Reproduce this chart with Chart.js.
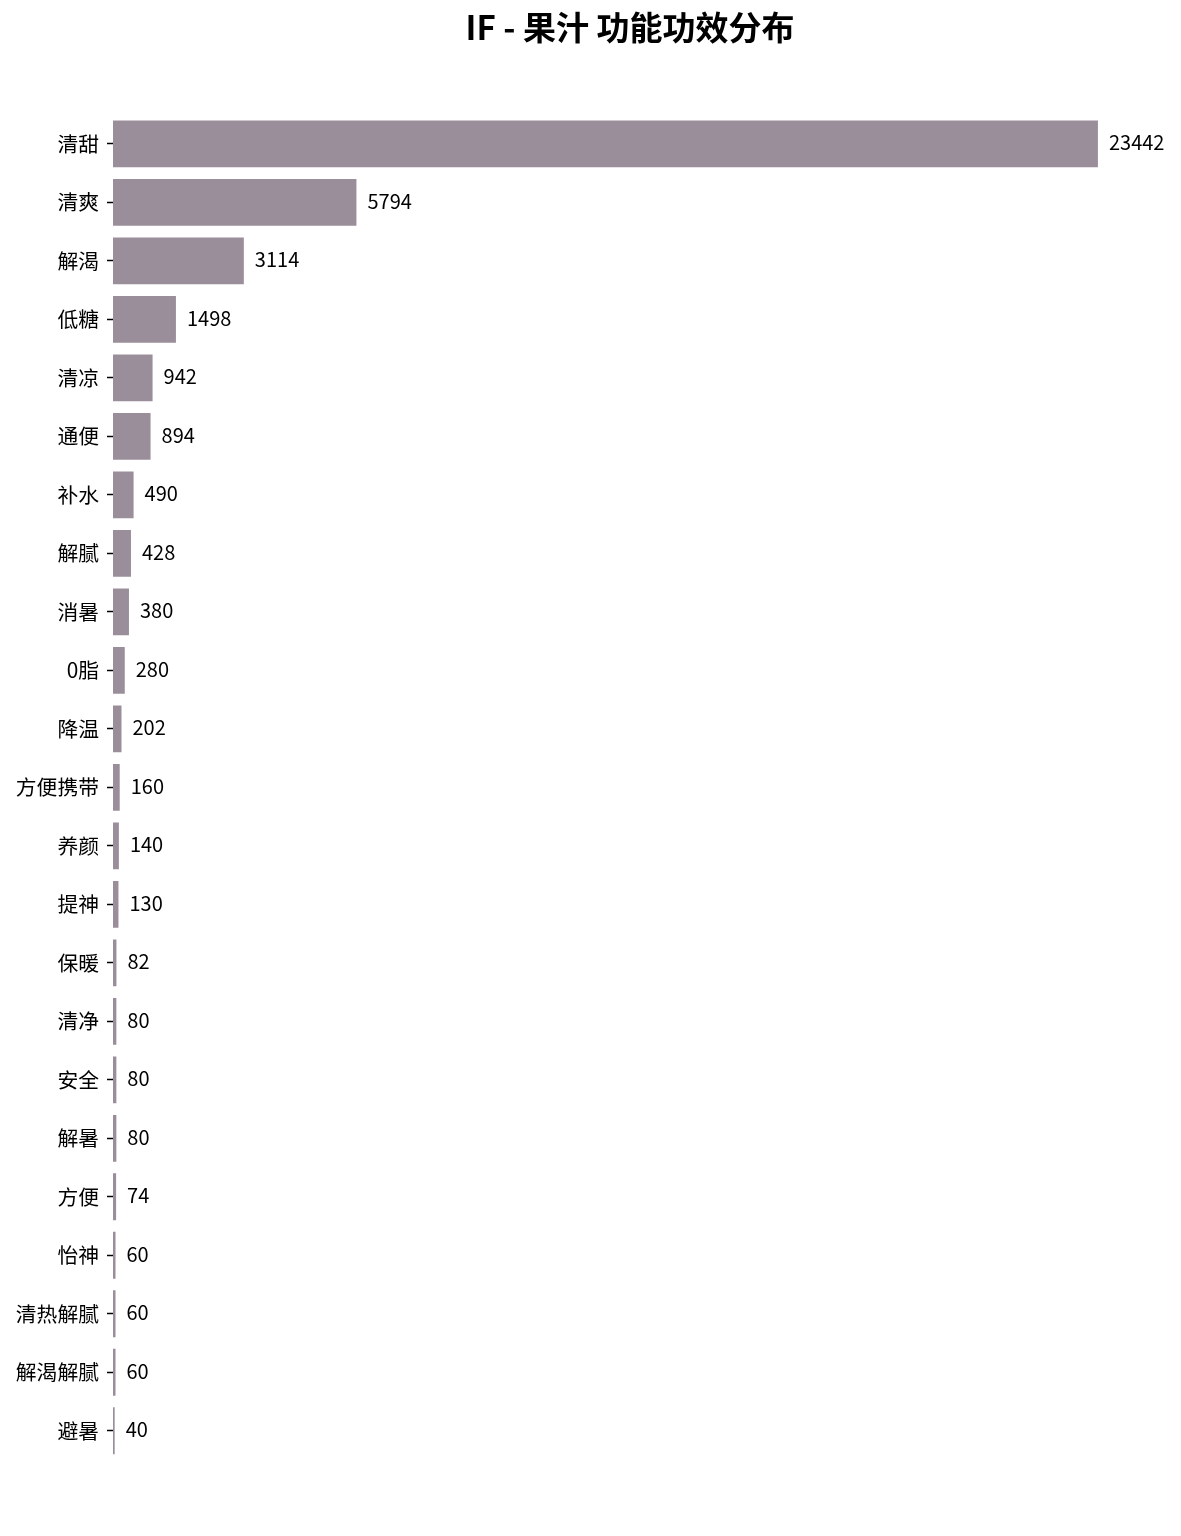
<!DOCTYPE html>
<html>
<head>
<meta charset="utf-8">
<script src="https://cdn.jsdelivr.net/npm/chart.js@4"></script>
<style>
    body { margin: 0; background: #fff; }
    #wrap { width: 1181px; height: 1536px; }
</style>
</head>
<body>
<div id="wrap"><canvas id="chart" width="1181" height="1536"></canvas></div>
<script>
const chartTitle = 'IF - 果汁 功能功效分布';
const labels = ['清甜', '清爽', '解渴', '低糖', '清凉', '通便', '补水', '解腻', '消暑', '0脂', '降温',
    '方便携带', '养颜', '提神', '保暖', '清净', '安全', '解暑', '方便', '怡神', '清热解腻', '解渴解腻', '避暑'];
const counts = [23442, 5794, 3114, 1498, 942, 894, 490, 428, 380, 280, 202,
    160, 140, 130, 82, 80, 80, 80, 74, 60, 60, 60, 40];
const xMax = 24610;

const FONT = '"Noto Sans CJK SC", "Noto Sans", sans-serif';

// value labels at the end of each bar
const valueLabels = {
    id: 'valueLabels',
    afterDatasetsDraw(chart) {
        const ctx = chart.ctx;
        const meta = chart.getDatasetMeta(0);
        ctx.save();
        ctx.font = '20px ' + FONT;
        ctx.fillStyle = '#000';
        ctx.textAlign = 'left';
        ctx.textBaseline = 'middle';
        meta.data.forEach((bar, i) => {
            ctx.fillText(String(counts[i]), bar.x + 11, bar.y - 1);
        });
        ctx.restore();
    }
};

new Chart(document.getElementById('chart'), {
    type: 'bar',
    data: {
        labels: labels,
        datasets: [{
            data: counts,
            backgroundColor: '#9b8e9b',
            borderWidth: 0,
            barPercentage: 0.8,
            categoryPercentage: 1.0
        }]
    },
    options: {
        indexAxis: 'y',
        responsive: false,
        animation: false,
        devicePixelRatio: 1,
        layout: { padding: { top: 0, bottom: 76, left: 0, right: 34 } },
        plugins: {
            legend: { display: false },
            tooltip: { enabled: false },
            title: {
                display: true,
                fullSize: false,
                text: chartTitle,
                color: '#000',
                font: { family: FONT, size: 33, weight: 'bold' },
                padding: { top: 8, bottom: 67 }
            }
        },
        scales: {
            x: {
                display: false,
                min: 0,
                max: xMax
            },
            y: {
                afterFit(scale) { scale.width = 113; },
                border: { display: false },
                grid: {
                    offset: false,
                    drawOnChartArea: false,
                    drawTicks: true,
                    tickLength: 6,
                    tickWidth: 1.5,
                    tickColor: '#000'
                },
                ticks: {
                    color: '#000',
                    padding: 8,
                    autoSkip: false,
                    font: { family: FONT, size: 20.8 }
                }
            }
        }
    },
    plugins: [valueLabels]
});
</script>
</body>
</html>
